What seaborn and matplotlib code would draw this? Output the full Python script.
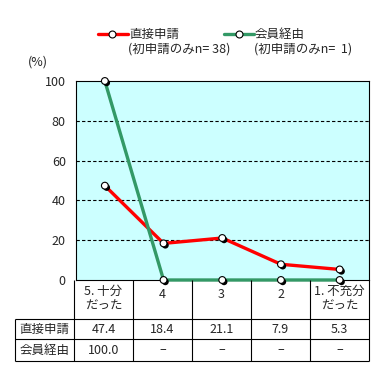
import matplotlib
matplotlib.use("Agg")
import matplotlib.pyplot as plt
import matplotlib.patheffects as pe
from matplotlib.lines import Line2D
import seaborn as sns
import pandas as pd

# data
categories = ["5. 十分\nだった", "4", "3", "2", "1. 不充分\nだった"]
direct = [47.4, 18.4, 21.1, 7.9, 5.3]
member = [100.0, 0.0, 0.0, 0.0, 0.0]
series_names = ["直接申請", "会員経由"]
series_notes = ["(初申請のみn= 38)", "(初申請のみn=  1)"]
series_colors = ["#FF0000", "#339966"]
yticks = [0, 20, 40, 60, 80, 100]

sns.set_style("white")
plt.rcParams["font.family"] = ["Noto Sans CJK JP", "DejaVu Sans"]
_fs = 9

W, H = 386, 375
fig = plt.figure(figsize=(W / 100, H / 100), dpi=100)

def px(x0, y0, x1, y1):
    # pixel box (top-left origin) -> figure fraction rect
    return [x0 / W, 1 - y1 / H, (x1 - x0) / W, (y1 - y0) / H]

ax = fig.add_axes(px(75.5, 81, 369, 280))
ax.set_facecolor("#CCFFFF")

df = pd.DataFrame({
    "x": list(range(len(categories))) * 2,
    "y": direct + member,
    "series": [series_names[0]] * len(direct) + [series_names[1]] * len(member),
})

sns.lineplot(data=df, x="x", y="y", hue="series", hue_order=series_names,
             palette=dict(zip(series_names, series_colors)), linewidth=2.4,
             legend=False, sort=False, ax=ax, clip_on=False, zorder=3)

shadow = [pe.SimplePatchShadow(offset=(1.3, -1.3), shadow_rgbFace="black", alpha=1.0), pe.Normal()]
sns.scatterplot(data=df, x="x", y="y", color="white", edgecolor="black", s=24,
                linewidth=0.8, legend=False, ax=ax, zorder=5, clip_on=False,
                path_effects=shadow)

ax.set_xlim(-0.5, len(categories) - 0.5)
ax.set_ylim(0, 100)
ax.set_xticks([])
ax.set_yticks(yticks)
ax.set_yticklabels([str(t) for t in yticks], fontsize=_fs)
ax.tick_params(axis="y", length=0, pad=7)
ax.set_xlabel("")
ax.set_ylabel("")
for t in yticks[1:-1]:
    ax.axhline(t, color="black", linestyle=(0, (3, 2)), linewidth=0.8, zorder=1)
for s in ax.spines.values():
    s.set_color("black")
    s.set_linewidth(0.8)

fig.text(38 / W, 1 - 62 / H, "(%)", fontsize=_fs, ha="center", va="center")

# legend
for i, (name, note, col) in enumerate(zip(series_names, series_notes, series_colors)):
    x0 = 98 + 126 * i
    y = 1 - 34 / H
    fig.add_artist(Line2D([x0 / W, (x0 + 30) / W], [y, y], color=col, linewidth=2.4,
                          transform=fig.transFigure))
    fig.add_artist(Line2D([(x0 + 14.5) / W], [y], marker="o", markersize=5,
                          markerfacecolor="white", markeredgecolor="black",
                          markeredgewidth=0.8, linestyle="none",
                          transform=fig.transFigure))
    fig.text((x0 + 31) / W, y, name, fontsize=_fs, ha="left", va="center")
    fig.text((x0 + 30) / W, 1 - 49 / H, note, fontsize=_fs, ha="left", va="center")

# data table under the plot
tax = fig.add_axes(px(15, 280, 369, 361))
tax.set_xlim(-1.5, len(categories) - 0.5)
tax.set_ylim(81, 0)
tax.axis("off")
n = len(categories)
lw = 0.8
tax.hlines([39, 59, 81], -1.5, n - 0.5, color="black", linewidth=lw, clip_on=False)
tax.vlines([i - 0.5 for i in range(n + 1)], 0, 81, color="black", linewidth=lw, clip_on=False)
tax.vlines([-1.5], 39, 81, color="black", linewidth=lw, clip_on=False)

for i, c in enumerate(categories):
    tax.text(i, 19 if "\n" in c else 15, c, fontsize=_fs, ha="center", va="center",
             linespacing=1.25)

rows = [direct, member]
for r, (name, vals) in enumerate(zip(series_names, rows)):
    yc = 49.5 if r == 0 else 70
    tax.text(-1, yc, name, fontsize=_fs, ha="center", va="center")
    for i, v in enumerate(vals):
        s = f"{v:.1f}" if v != 0 else "–"
        tax.text(i, yc, s, fontsize=_fs, ha="center", va="center")

fig.savefig("out.png", dpi=100)
